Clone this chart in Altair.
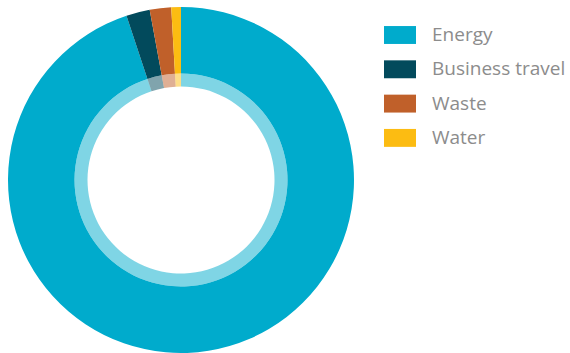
import altair as alt
import pandas as pd

categories = ["Energy", "Business travel", "Waste", "Water"]
values = [94.9, 2.2, 2.0, 0.9]
colors = ["#00abcc", "#024a5c", "#c0602a", "#fcbc12"]

df = pd.DataFrame({"category": categories, "value": values, "idx": list(range(len(categories)))})

color_scale = alt.Scale(domain=categories, range=colors)

base = alt.Chart(df).encode(
    theta=alt.Theta("value:Q", stack=True),
    order=alt.Order("idx:Q"),
)

outer = base.mark_arc(radius=173, radius2=106.5, stroke=None).encode(
    x=alt.value(181),
    y=alt.value(180),
    color=alt.Color(
        "category:N",
        scale=color_scale,
        sort=categories,
        title=None,
        legend=alt.Legend(
            orient="none",
            legendX=384,
            legendY=19,
            symbolType="M-1,-0.56L1,-0.56L1,0.56L-1,0.56Z",
            symbolSize=1024,
            symbolStrokeWidth=0,
            symbolOpacity=1,
            labelFont="Open Sans",
            labelFontSize=19,
            labelColor="#8c8c8c",
            labelOffset=16,
            rowPadding=8.3,
            padding=0,
        ),
    ),
)

inner = base.mark_arc(radius=106.5, radius2=93.5, opacity=0.5, stroke=None).encode(
    x=alt.value(181),
    y=alt.value(180),
    color=alt.Color("category:N", scale=color_scale, sort=categories, legend=None),
)

chart = (
    alt.layer(outer, inner)
    .properties(width=570, height=353, padding=0, autosize=alt.AutoSizeParams(type="none"))
    .configure_view(stroke=None)
)

chart.save("out.html", embed_options={"renderer": "svg", "actions": False})
